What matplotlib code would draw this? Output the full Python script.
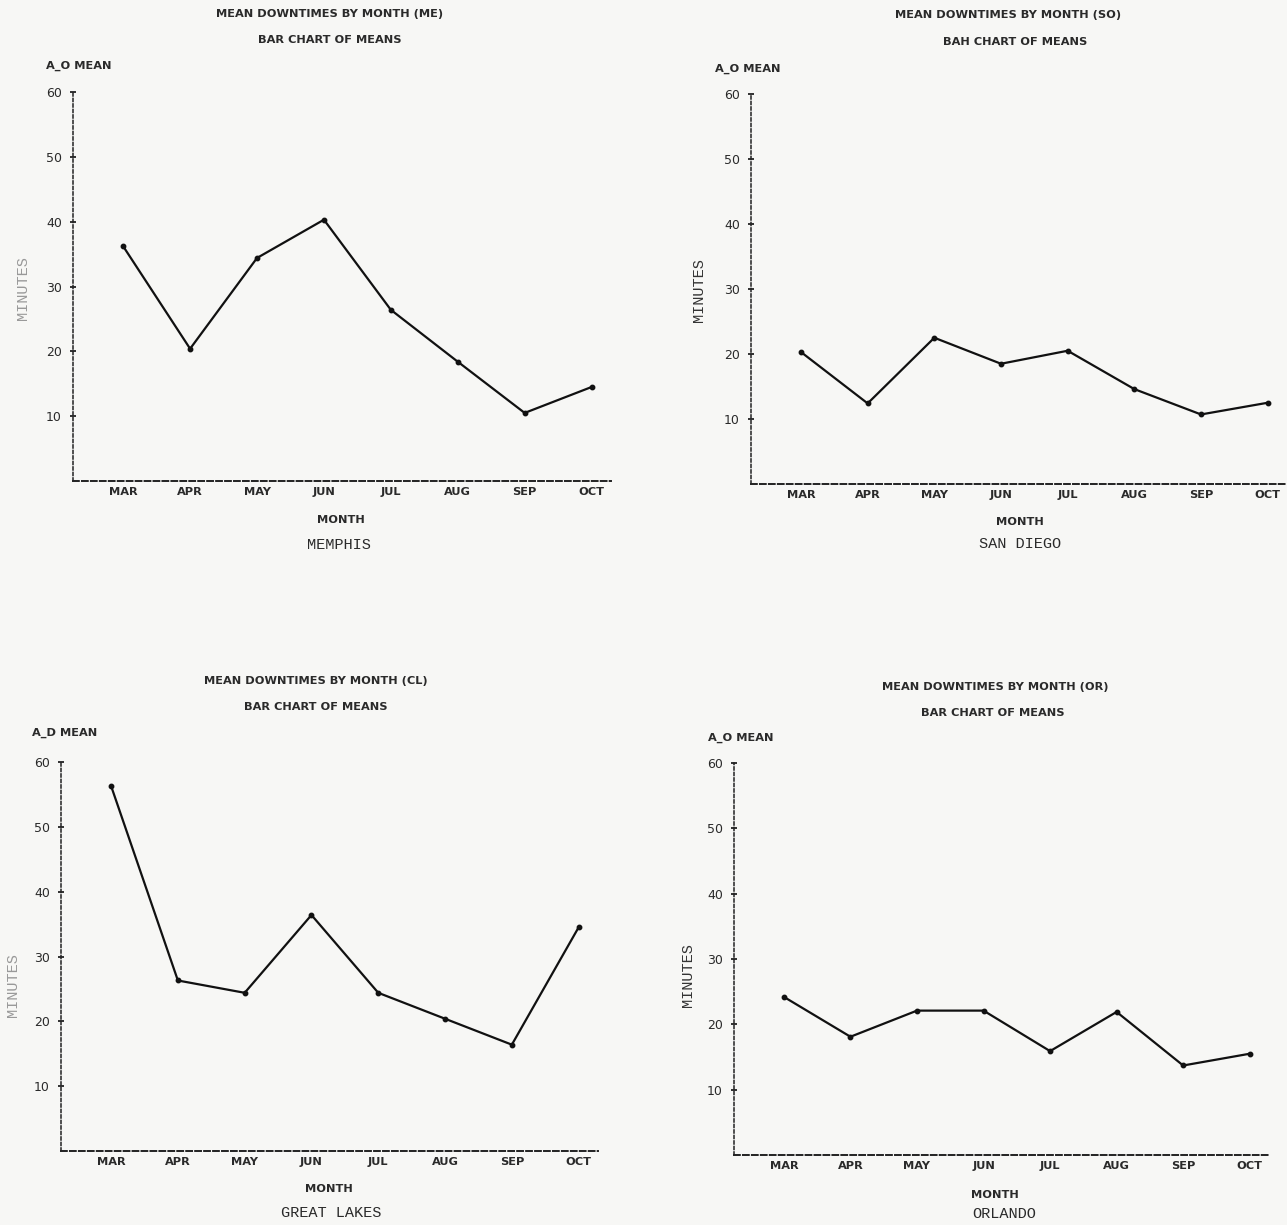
import matplotlib
matplotlib.use("Agg")
import matplotlib.pyplot as plt

W, H = 1287, 1225

months = ["MAR", "APR", "MAY", "JUN", "JUL", "AUG", "SEP", "OCT"]
yticks = [10, 20, 30, 40, 50, 60]

memphis = [36.2, 20.4, 34.4, 40.3, 26.4, 18.4, 10.5, 14.5]
san_diego = [20.3, 12.4, 22.5, 18.5, 20.5, 14.6, 10.7, 12.5]
great_lakes = [56.3, 26.3, 24.4, 36.4, 24.4, 20.4, 16.4, 34.5]
orlando = [24.2, 18.1, 22.1, 22.1, 15.9, 21.9, 13.7, 15.5]

titles = ["MEAN DOWNTIMES BY MONTH (ME)", "MEAN DOWNTIMES BY MONTH (SO)",
          "MEAN DOWNTIMES BY MONTH (CL)", "MEAN DOWNTIMES BY MONTH (OR)"]
subtitles = ["BAR CHART OF MEANS", "BAH CHART OF MEANS",
             "BAR CHART OF MEANS", "BAR CHART OF MEANS"]
ylabels_top = ["A_O MEAN", "A_O MEAN", "A_D MEAN", "A_O MEAN"]
places = ["MEMPHIS", "SAN DIEGO", "GREAT LAKES", "ORLANDO"]
series = [memphis, san_diego, great_lakes, orlando]

BG = "#f7f7f5"
TXT = "#2a2a2a"
fig = plt.figure(figsize=(W / 100, H / 100), dpi=100, facecolor=BG)

# layout per panel (pixels)
layouts = [
    dict(l=73, r=611, t=92, b=481, title=(330, 14), sub=(330, 40), top=(46, 66),
         minutes=(23, 288), month=(341, 520), place=(339, 545), mcol="#999999"),
    dict(l=751, r=1287, t=94, b=484, title=(1008, 15), sub=(1015, 42), top=(715, 69),
         minutes=(699, 290), month=(1020, 522), place=(1020, 544), mcol="#333333"),
    dict(l=61, r=598, t=762, b=1151, title=(316, 681), sub=(316, 707), top=(32, 733),
         minutes=(13, 985), month=(329, 1189), place=(331, 1213), mcol="#999999"),
    dict(l=734, r=1269, t=763, b=1155, title=(995, 687), sub=(993, 713), top=(708, 738),
         minutes=(688, 975), month=(995, 1195), place=(1004, 1214), mcol="#333333"),
]

def fx(x):
    return x / W

def fy(y):
    return 1 - y / H

bold = dict(family="DejaVu Sans", fontweight="bold", fontsize=8.2, color=TXT)
mono = dict(family="Liberation Mono", fontsize=11, color=TXT)

x_idx = list(range(len(months)))
for lay, vals, ttl, sub, topl, place in zip(layouts, series, titles, subtitles,
                                            ylabels_top, places):
    ax = fig.add_axes([fx(lay["l"]), fy(lay["b"]), (lay["r"] - lay["l"]) / W,
                       (lay["b"] - lay["t"]) / H])
    ax.set_facecolor("none")
    ax.set_xlim(-0.75, 7.29)
    ax.set_ylim(0, 60)
    for s in ["top", "right"]:
        ax.spines[s].set_visible(False)
    ax.spines["left"].set_linestyle((0, (2.0, 1.6)))
    ax.spines["left"].set_linewidth(1.1)
    ax.spines["left"].set_color("#222222")
    ax.spines["bottom"].set_linestyle((0, (3.0, 1.6)))
    ax.spines["bottom"].set_linewidth(1.4)
    ax.spines["bottom"].set_color("#222222")
    ax.set_yticks(yticks)
    ax.set_yticklabels([str(v) for v in yticks], fontsize=9, color=TXT,
                       family="DejaVu Sans")
    ax.tick_params(axis="y", direction="inout", length=4, width=1.3, pad=6,
                   colors="#222222", labelcolor=TXT)
    ax.set_xticks(x_idx)
    ax.set_xticklabels(months, fontsize=8.2, fontweight="bold", color=TXT,
                       family="DejaVu Sans")
    ax.tick_params(axis="x", length=0, pad=4.5)
    ax.plot(x_idx, vals, color="#111111", lw=1.6, marker="o", ms=3.2,
            clip_on=False, zorder=3)

    fig.text(fx(lay["title"][0]), fy(lay["title"][1]), ttl, ha="center", va="center", **bold)
    fig.text(fx(lay["sub"][0]), fy(lay["sub"][1]), sub, ha="center", va="center", **bold)
    fig.text(fx(lay["top"][0]), fy(lay["top"][1]), topl, ha="left", va="center", **bold)
    fig.text(fx(lay["month"][0]), fy(lay["month"][1]), "MONTH", ha="center", va="center", **bold)
    fig.text(fx(lay["place"][0]), fy(lay["place"][1]), place, ha="center", va="center", **mono)
    fig.text(fx(lay["minutes"][0]), fy(lay["minutes"][1]), "MINUTES", ha="center",
             va="center", rotation=90, family="Liberation Mono", fontsize=11,
             color=lay["mcol"])

fig.savefig("out.png", dpi=100, facecolor=BG)
